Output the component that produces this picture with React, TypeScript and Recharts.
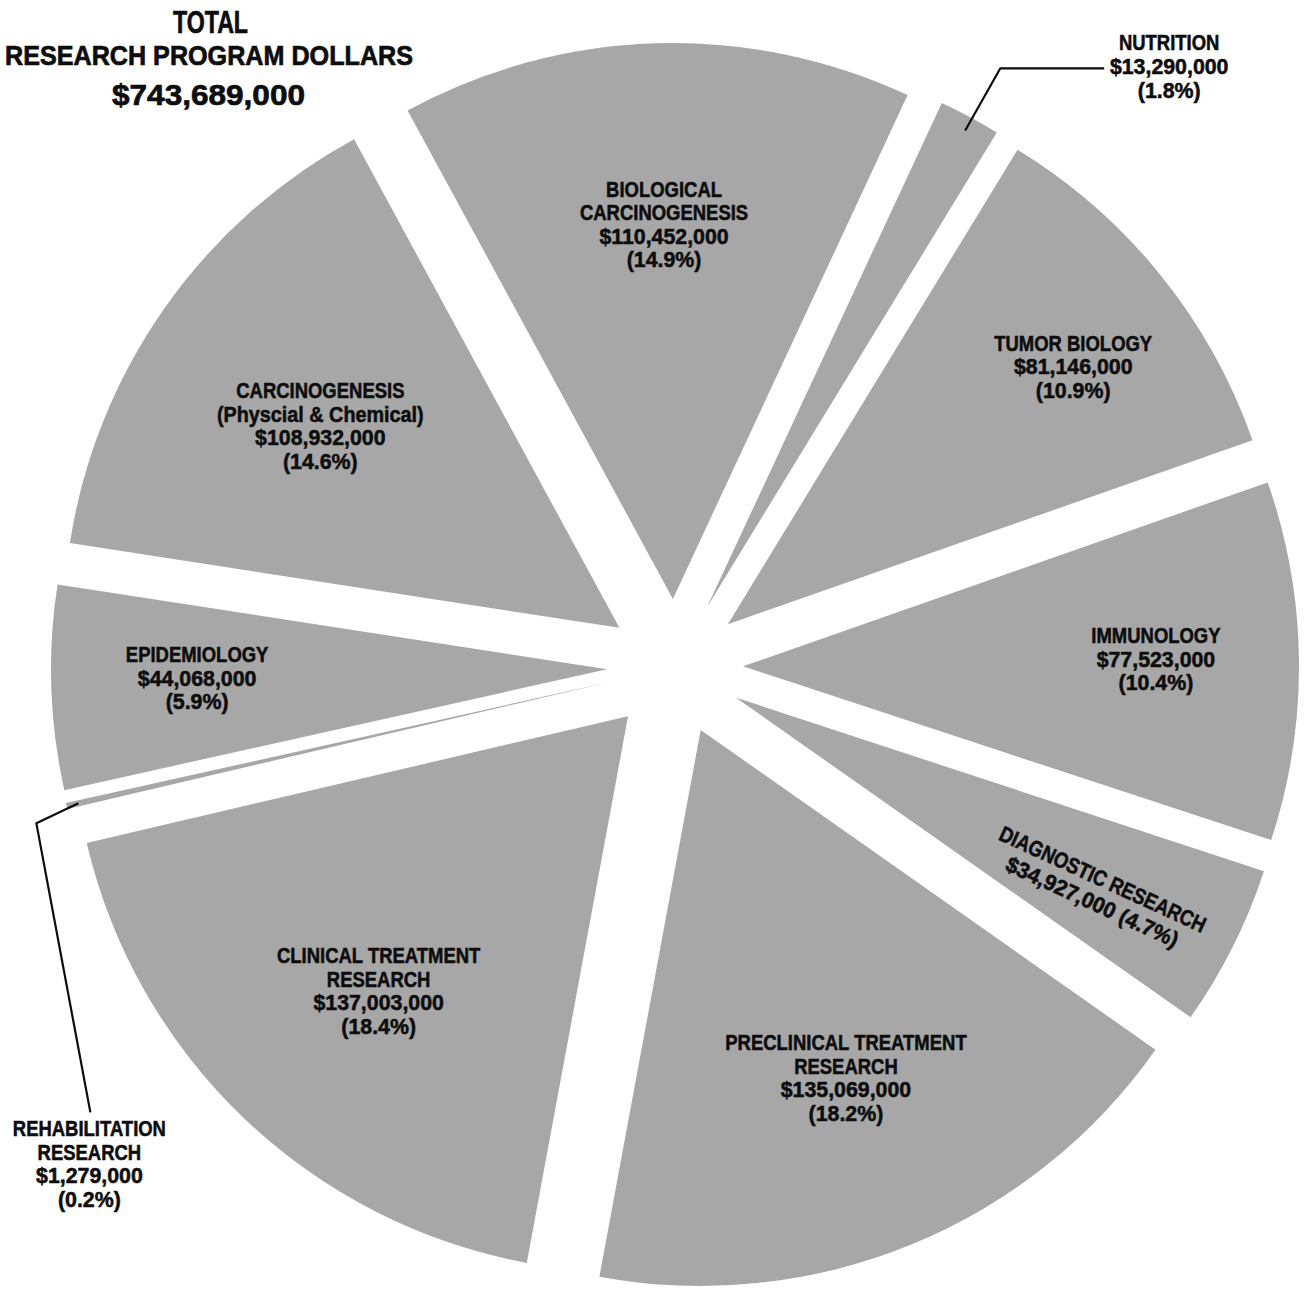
import React from 'react';
import { PieChart, Pie, Sector } from 'recharts';

// ---------- data ----------
const CATEGORY_LINES: string[][] = [
  ['BIOLOGICAL', 'CARCINOGENESIS'],
  ['NUTRITION'],
  ['TUMOR BIOLOGY'],
  ['IMMUNOLOGY'],
  ['DIAGNOSTIC RESEARCH'],
  ['PRECLINICAL TREATMENT', 'RESEARCH'],
  ['CLINICAL TREATMENT', 'RESEARCH'],
  ['REHABILITATION', 'RESEARCH'],
  ['EPIDEMIOLOGY'],
  ['CARCINOGENESIS', '(Physcial & Chemical)'],
];

const AMOUNTS: number[] = [
  110452000, 13290000, 81146000, 77523000, 34927000,
  135069000, 137003000, 1279000, 44068000, 108932000,
];

const TITLE_LINES: string[] = ['TOTAL', 'RESEARCH PROGRAM DOLLARS', '$743,689,000'];

const data = AMOUNTS.map((v, i) => ({ name: CATEGORY_LINES[i].join(' '), value: v }));

// ---------- layout / style ----------
const W = 1307;
const H = 1297;
const CX = 675;
const CY = 667;
const R = 556;
const EXPLODE = 68;
const START = 118.5;
const FILL = '#a7a7a7';
const INK = '#0d0d0d';
const FONT = "'Liberation Sans', Arial, Helvetica, sans-serif";
const FS = 22;
const PITCH = 23.5;
const CAP_HALF = 7.8;

type Layout =
  | { kind: 'inside'; r: number; shift: number }
  | { kind: 'rotated'; r: number; shift: number; pitch: number; tilt: number }
  | {
      kind: 'callout';
      inset: number;
      shift: number;
      pts: [number, number][];
      textDx: number;
      baselines: number[];
    };

const LAYOUT: Layout[] = [
  { kind: 'inside', r: 443, shift: 0.35 },
  { kind: 'callout', inset: 14, shift: 0.25, pts: [[35, -62], [139, -62]], textDx: 65, baselines: [-18, 6, 30] },
  { kind: 'inside', r: 499, shift: 1.9 },
  { kind: 'inside', r: 481, shift: -0.4 },
  { kind: 'rotated', r: 478, shift: 1.2, pitch: 25, tilt: -2 },
  { kind: 'inside', r: 445, shift: -0.4 },
  { kind: 'inside', r: 439, shift: -1.2 },
  { kind: 'callout', inset: 12, shift: 0, pts: [[-42, 20], [12, 309]], textDx: -1, baselines: [24, 47.5, 71, 94.5] },
  { kind: 'inside', r: 478, shift: 0.6 },
  { kind: 'inside', r: 429, shift: -0.9 },
];

const RAD = Math.PI / 180;
const polar = (cx: number, cy: number, r: number, angle: number) => ({
  x: cx + r * Math.cos(-angle * RAD),
  y: cy + r * Math.sin(-angle * RAD),
});

const fmt = (v: number) => '$' + String(v).replace(/\B(?=(\d{3})+(?!\d))/g, ',');

const scaleFor = (t: string) => (/\d/.test(t) ? 0.97 : /[a-z]/.test(t) ? 0.9 : 0.84);

const TextLine = ({ x, y, text }: { x: number; y: number; text: string }) => (
  <text
    transform={`translate(${x},${y}) scale(${scaleFor(text)},1)`}
    x={0}
    y={0}
    textAnchor="middle"
    fontFamily={FONT}
    fontWeight="bold"
    fontSize={FS}
    fill={INK}
    stroke={INK}
    strokeWidth={0.55}
  >
    {text}
  </text>
);

const renderSlice = (p: any) => {
  const mid = (p.startAngle + p.endAngle) / 2;
  const o = polar(p.cx, p.cy, EXPLODE, mid);
  return (
    <Sector
      cx={o.x}
      cy={o.y}
      innerRadius={0}
      outerRadius={p.outerRadius}
      startAngle={p.startAngle}
      endAngle={p.endAngle}
      fill={FILL}
      stroke="none"
    />
  );
};

const renderLabel = (p: any) => {
  const i: number = p.index;
  const L = LAYOUT[i];
  const mid = (p.startAngle + p.endAngle) / 2;
  const pct = `(${(p.percent * 100).toFixed(1)}%)`;
  const dollars = fmt(p.value);

  if (L.kind === 'inside') {
    const pos = polar(p.cx, p.cy, L.r, mid - L.shift);
    const lines = [...CATEGORY_LINES[i], dollars, pct];
    return (
      <g>
        {lines.map((t, k) => (
          <TextLine key={k} x={pos.x} y={pos.y + (k - (lines.length - 1) / 2) * PITCH + CAP_HALF} text={t} />
        ))}
      </g>
    );
  }
  if (L.kind === 'rotated') {
    const pos = polar(p.cx, p.cy, L.r, mid - L.shift);
    const lines = [CATEGORY_LINES[i].join(' '), `${dollars} ${pct}`];
    return (
      <g transform={`translate(${pos.x},${pos.y}) rotate(${-mid + L.tilt})`}>
        {lines.map((t, k) => (
          <TextLine key={k} x={0} y={(k - (lines.length - 1) / 2) * L.pitch + CAP_HALF} text={t} />
        ))}
      </g>
    );
  }
  const apex = polar(p.cx, p.cy, EXPLODE, mid);
  const s = polar(apex.x, apex.y, p.outerRadius - L.inset, mid - L.shift);
  const pts = [[s.x, s.y], ...L.pts.map(([dx, dy]) => [s.x + dx, s.y + dy])];
  const end = pts[pts.length - 1];
  const lines = [...CATEGORY_LINES[i], dollars, pct];
  return (
    <g>
      <polyline
        points={pts.map((q) => q.join(',')).join(' ')}
        fill="none"
        stroke={INK}
        strokeWidth={2.2}
        strokeLinejoin="round"
      />
      {lines.map((t, k) => (
        <TextLine key={k} x={end[0] + L.textDx} y={end[1] + L.baselines[k]} text={t} />
      ))}
    </g>
  );
};

const TITLE_STYLE = [
  { x: 210.5, y: 33, size: 31, len: 75 },
  { x: 209, y: 65, size: 28, len: 408 },
  { x: 208.5, y: 105, size: 30, len: 193 },
];

export default function App() {
  return (
    <div style={{ position: 'absolute', left: 0, top: 0, width: W, height: H, background: '#fff', overflow: 'hidden' }}>
      <PieChart width={W} height={H} margin={{ top: 0, right: 0, bottom: 0, left: 0 }}>
        <Pie
          data={data}
          dataKey="value"
          nameKey="name"
          cx={CX}
          cy={CY}
          innerRadius={0}
          outerRadius={R}
          startAngle={START}
          endAngle={START - 360}
          fill="none"
          stroke="none"
          isAnimationActive={false}
          label={renderSlice}
          labelLine={false}
        />
        <Pie
          data={data}
          dataKey="value"
          nameKey="name"
          cx={CX}
          cy={CY}
          innerRadius={0}
          outerRadius={R}
          startAngle={START}
          endAngle={START - 360}
          fill="none"
          stroke="none"
          isAnimationActive={false}
          label={renderLabel}
          labelLine={false}
        />
      </PieChart>
      <svg style={{ position: 'absolute', left: 0, top: 0 }} width={460} height={130}>
        {TITLE_LINES.map((t, k) => (
          <text
            key={k}
            x={TITLE_STYLE[k].x}
            y={TITLE_STYLE[k].y}
            textAnchor="middle"
            fontFamily={FONT}
            fontWeight="bold"
            fontSize={TITLE_STYLE[k].size}
            textLength={TITLE_STYLE[k].len}
            lengthAdjust="spacingAndGlyphs"
            fill={INK}
            stroke={INK}
            strokeWidth={0.7}
          >
            {t}
          </text>
        ))}
      </svg>
    </div>
  );
}
